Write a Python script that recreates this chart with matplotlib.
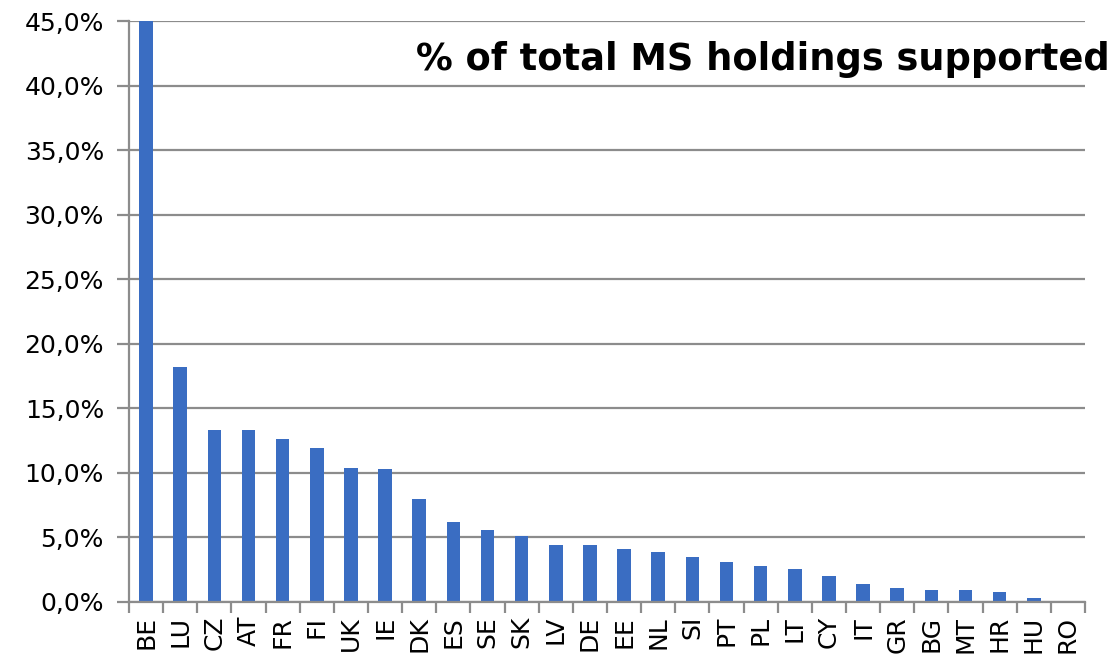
import matplotlib.pyplot as plt
import numpy as np
from matplotlib.ticker import FuncFormatter, FixedLocator

# Member states and share of holdings supported (%)
countries = ["BE", "LU", "CZ", "AT", "FR", "FI", "UK", "IE", "DK", "ES", "SE", "SK", "LV", "DE",
             "EE", "NL", "SI", "PT", "PL", "LT", "CY", "IT", "GR", "BG", "MT", "HR", "HU", "RO"]
share = [46.0, 18.2, 13.3, 13.3, 12.6, 11.9, 10.4, 10.3, 8.0, 6.2, 5.6, 5.1, 4.45, 4.45,
         4.1, 3.85, 3.45, 3.1, 2.8, 2.55, 2.05, 1.4, 1.05, 0.9, 0.9, 0.78, 0.33, 0.05]
yticks = [0, 5, 10, 15, 20, 25, 30, 35, 40, 45]

fig = plt.figure(figsize=(11.16, 6.58), dpi=100)
ax = fig.add_axes([129 / 1116, 1 - 602 / 658, (1085 - 129) / 1116, (602 - 21) / 658])

x = np.arange(len(countries))
ax.bar(x, share, width=0.4, color="#3A6DC2", zorder=3)

ax.set_xlim(-0.5, len(countries) - 0.5)
ax.set_ylim(0, 45)
ax.set_yticks(yticks)
ax.yaxis.set_major_formatter(FuncFormatter(lambda v, p: f"{v:.1f}%".replace(".", ",")))
ax.yaxis.grid(True, color="#8c8c8c", linewidth=1.6, zorder=0)

ax.set_xticks(x)
ax.set_xticklabels(countries, rotation=90)
ax.xaxis.set_minor_locator(FixedLocator(np.arange(-0.5, len(countries), 1)))
ax.tick_params(axis="x", which="major", length=0, labelsize=18, pad=10)
ax.tick_params(axis="x", which="minor", length=8, width=1.6, color="#8c8c8c")
ax.tick_params(axis="y", length=9, width=1.6, color="#8c8c8c", labelsize=18, pad=9)

for s in ["top", "right"]:
    ax.spines[s].set_visible(False)
for s in ["left", "bottom"]:
    ax.spines[s].set_color("#8c8c8c")
    ax.spines[s].set_linewidth(1.6)
    ax.spines[s].set_zorder(4)

fig.text(1110 / 1116, 1 - 60 / 658, "% of total MS holdings supported", ha="right", va="center",
         fontsize=26.5, fontweight="bold")

fig.savefig("out.png", dpi=100)
